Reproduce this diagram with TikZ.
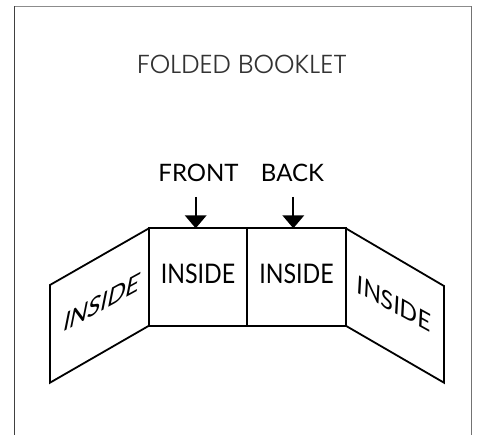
\documentclass[tikz,border=0pt]{standalone}
\usepackage{fontspec}
\setmainfont{Lato}
\newfontfamily\titlefont{Poppins Light}
\usepackage{tikz}
\usetikzlibrary{calc}

\begin{document}
\begin{tikzpicture}[x=1pt,y=1pt]
\tikzset{panel/.style={black,line width=1.8pt,line join=miter},
  word/.style={inner sep=0pt,font=\fontsize{27}{27}\selectfont},
  label/.style={inner sep=0pt,font=\fontsize{24}{24}\selectfont}}
\useasboundingbox (0,0) rectangle (480,-435);
% frame
\draw [black!75,line width=1.3pt] (14.5,-435) -- (14.5,-6.5);
\draw [black!45,line width=1.3pt] (14.5,-6.5) -- (471.7,-6.5);
\draw [black!55,line width=1.3pt] (471.7,-6.5) -- (471.7,-435);
\draw (242,-64) node [inner sep=0pt,text=black!80,font=\titlefont\fontsize{26}{26}\selectfont] (title) {FOLDED BOOKLET};
% corners
\coordinate (lt) at (50,-285);
\coordinate (lb) at (50,-382.7);
\coordinate (at) at (149,-228.3);
\coordinate (ab) at (149,-325.7);
\coordinate (bt) at (247.3,-228.3);
\coordinate (bb) at (247.3,-325.7);
\coordinate (ct) at (345.7,-228.3);
\coordinate (cb) at (345.7,-325.7);
\coordinate (rt) at (444,-286);
\coordinate (rb) at (444,-382.7);
\draw [panel] (at) -- (lt) -- (lb) -- (ab);
\draw [panel] (at) -- (ct) -- (cb) -- (ab) -- cycle;
\draw [panel] (bt) -- (bb);
\draw [panel] (ct) -- (rt) -- (rb) -- (cb);
% labels and arrows
\draw (198.5,-172.5) node [label] (front) {FRONT};
\draw (292.5,-172.5) node [label] (back) {BACK};
\coordinate (fs) at (195.7,-197);
\coordinate (ft) at (195.7,-228.3);
\coordinate (bs) at (293.3,-197);
\coordinate (bk) at (293.3,-228.3);
\draw [black,line width=1.8pt] (fs) -- ($(ft)+(0,12)$);
\fill [black] (ft) -- ++(-11,13) -- ++(22,0) -- cycle;
\draw [black,line width=1.8pt] (bs) -- ($(bk)+(0,12)$);
\fill [black] (bk) -- ++(-11,13) -- ++(22,0) -- cycle;
% panel texts
\draw (198,-274) node [word,xscale=0.86] (in1) {INSIDE};
\draw (296.5,-274) node [word,xscale=0.86] (in2) {INSIDE};
\node [word,cm={0.88,0.48,0.2,1.0,(0,0)}] (in0) at (102,-302.5) {INSIDE};
\node [word,cm={0.85,-0.47,0.05,0.92,(0,0)}] (in3) at (394,-303.5) {INSIDE};
\end{tikzpicture}
\end{document}
